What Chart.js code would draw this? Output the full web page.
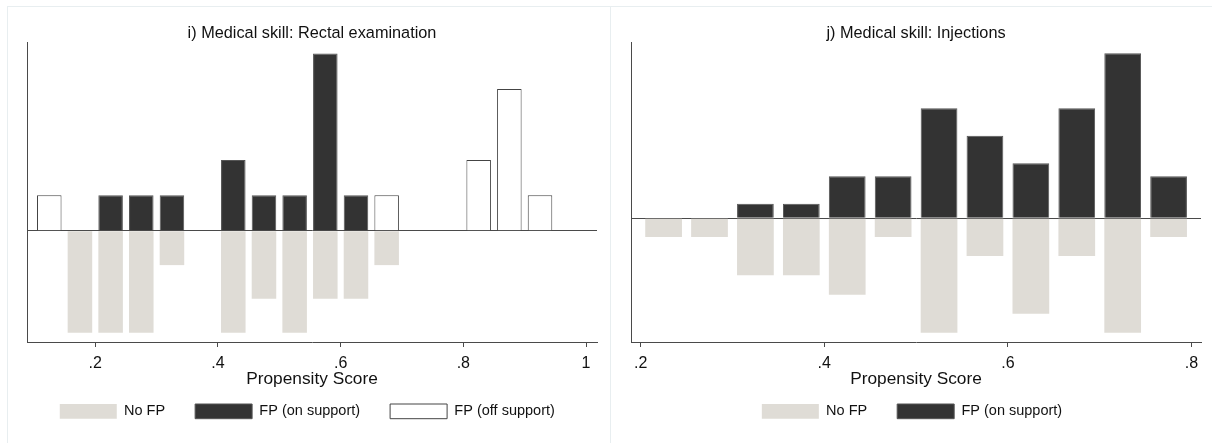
<!DOCTYPE html>
<html>
<head>
<meta charset="utf-8">
<script src="https://cdn.jsdelivr.net/npm/chart.js@4.4.1/dist/chart.umd.min.js"></script>
<style>
  body { margin: 0; background: #fff; }
  .panel { position: absolute; top: 6px; height: 437px; border-top: 1px solid #e8eef0; border-left: 1px solid #e8eef0; }
  canvas { position: absolute; top: 0; }
</style>
</head>
<body>
<div class="panel" style="left:7px; width:603px;"></div>
<div class="panel" style="left:610px; width:602px;"></div>
<canvas id="chartRectal" width="610" height="443" style="left:0px"></canvas>
<canvas id="chartInject" width="601" height="443" style="left:611px"></canvas>
<script>
// bin centres (propensity score) and bar heights
var rectalBins = [0.125, 0.175, 0.225, 0.275, 0.325, 0.375, 0.425, 0.475, 0.525, 0.575, 0.625, 0.675, 0.725, 0.775, 0.825, 0.875, 0.925];
var rectalNoFp = [null, -2.88, -2.88, -2.88, -0.97, null, -2.88, -1.92, -2.88, -1.92, -1.92, -0.97, null, null, null, null, null];
var rectalOnSupport = [null, null, 1, 1, 1, null, 2, 1, 1, 5, 1, null, null, null, null, null, null];
var rectalOffSupport = [1, null, null, null, null, null, null, null, null, null, null, 1, null, null, 2, 4, 1];
var rectalTicks = [0.2, 0.4, 0.6, 0.8, 1];
var rectalTickLabels = ['.2', '.4', '.6', '.8', '1'];

var injectBins = [0.225, 0.275, 0.325, 0.375, 0.425, 0.475, 0.525, 0.575, 0.625, 0.675, 0.725, 0.775];
var injectNoFp = [-1.36, -1.36, -4.15, -4.15, -5.56, -1.36, -8.32, -2.74, -6.94, -2.74, -8.32, -1.36];
var injectOnSupport = [null, null, 1.05, 1.05, 3.05, 3.05, 8, 6, 4, 8, 12, 3.05];
var injectTicks = [0.2, 0.4, 0.6, 0.8];
var injectTickLabels = ['.2', '.4', '.6', '.8'];

var GRAY = '#dfdcd6';
var DARK = '#333333';
var AXIS = '#4a4a4a';

Chart.defaults.font.family = '"Liberation Sans", Arial, sans-serif';
Chart.defaults.color = '#111';

function toPoints(bins, vals) {
    var pts = [];
    for (var i = 0; i < bins.length; i++) {
        if (vals[i] !== null) pts.push({x: bins[i], y: vals[i]});
    }
    return pts;
}

function barSet(label, pts, fill, border, bw) {
    return {
        label: label,
        data: pts,
        backgroundColor: fill,
        borderColor: border,
        borderWidth: bw,
        grouped: false,
        categoryPercentage: 1,
        barPercentage: 0.8
    };
}

function makeChart(id, title, datasets, cfg) {
    var ctx = document.getElementById(id).getContext('2d');
    return new Chart(ctx, {
        type: 'bar',
        data: {datasets: datasets},
        options: {
            responsive: false,
            animation: false,
            layout: {padding: {left: cfg.padLeft, right: cfg.padRight, top: 24, bottom: 14.3}},
            plugins: {
                title: {
                    display: true,
                    text: title,
                    fullSize: false,
                    font: {size: 16.3, weight: 'normal'},
                    padding: {top: 0, bottom: -0.6}
                },
                legend: {
                    position: 'bottom',
                    labels: {boxWidth: 57, boxHeight: 14.7, padding: 30, font: {size: 14.5}}
                },
                tooltip: {enabled: false}
            },
            scales: {
                x: {
                    type: 'linear',
                    min: cfg.xMin,
                    max: cfg.xMax,
                    offset: false,
                    afterBuildTicks: function(s) {
                        s.ticks = cfg.ticks.map(function(v) { return {value: v}; });
                    },
                    afterFit: function(s) { s.height = 32; },
                    ticks: {
                        font: {size: 16},
                        padding: 6.5,
                        maxRotation: 0,
                        callback: function(v) { return cfg.tickLabels[cfg.ticks.indexOf(v)]; }
                    },
                    grid: {offset: false, drawOnChartArea: false, drawTicks: true, tickLength: 5, color: AXIS},
                    border: {display: true, color: AXIS},
                    title: {display: true, text: 'Propensity Score', font: {size: 17.3}, padding: {top: 0, bottom: -15.2}}
                },
                y: {
                    min: cfg.yMin,
                    max: cfg.yMax,
                    afterBuildTicks: function(s) { s.ticks = [{value: 0}]; },
                    afterFit: function(s) { s.width = cfg.yWidth; },
                    ticks: {display: false},
                    grid: {drawTicks: false, color: AXIS},
                    border: {display: true, color: AXIS}
                }
            }
        }
    });
}

document.addEventListener('DOMContentLoaded', function() {
    makeChart('chartRectal', 'i) Medical skill: Rectal examination', [
        barSet('No FP', toPoints(rectalBins, rectalNoFp), GRAY, GRAY, 0),
        barSet('FP (on support)', toPoints(rectalBins, rectalOnSupport), DARK, '#555555', 1),
        barSet('FP (off support)', toPoints(rectalBins, rectalOffSupport), '#ffffff', '#444444', 1)
    ], {
        padLeft: 17.6, padRight: 13, yWidth: 9.4,
        xMin: 0.0887, xMax: 1.0179, yMin: -3.14, yMax: 5.30,
        ticks: rectalTicks, tickLabels: rectalTickLabels
    });

    makeChart('chartInject', 'j) Medical skill: Injections', [
        barSet('No FP', toPoints(injectBins, injectNoFp), GRAY, GRAY, 0),
        barSet('FP (on support)', toPoints(injectBins, injectOnSupport), DARK, '#555555', 1)
    ], {
        padLeft: 12, padRight: 11, yWidth: 8,
        xMin: 0.1895, xMax: 0.8103, yMin: -9.0, yMax: 12.75,
        ticks: injectTicks, tickLabels: injectTickLabels
    });
});
</script>
</body>
</html>
